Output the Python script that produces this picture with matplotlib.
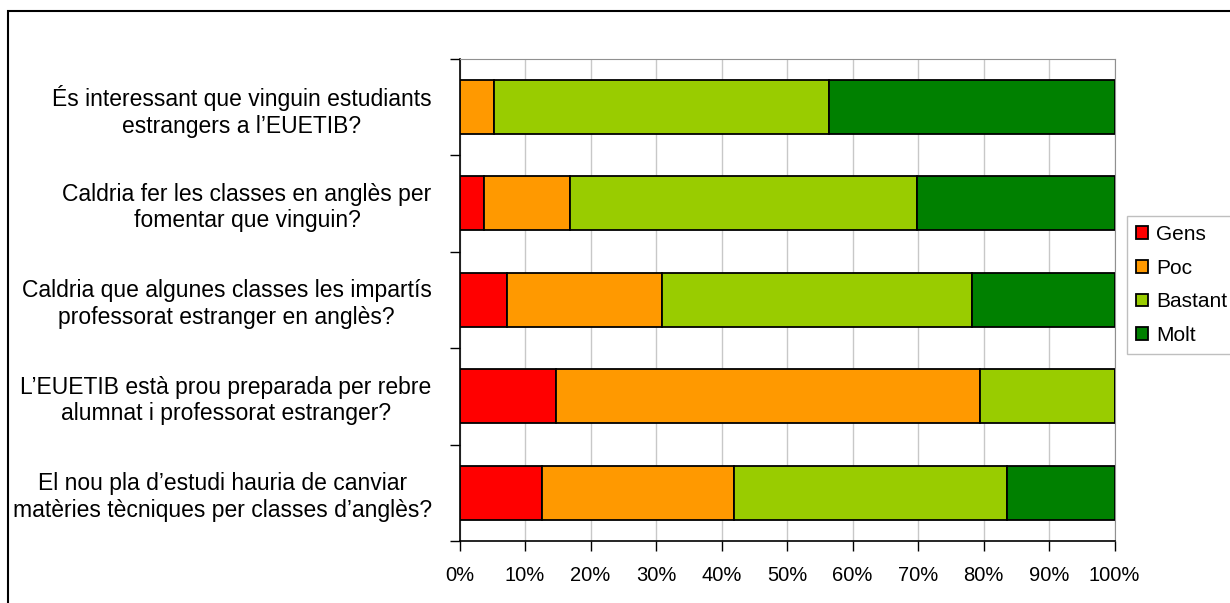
import numpy as np
import matplotlib.pyplot as plt
from matplotlib.patches import Rectangle

plt.rcParams['font.family'] = ['Liberation Sans', 'DejaVu Sans']

questions = [
    "És interessant que vinguin estudiants\nestrangers a l’EUETIB?",
    "Caldria fer les classes en anglès per\nfomentar que vinguin?",
    "Caldria que algunes classes les impartís\nprofessorat estranger en anglès?",
    "L’EUETIB està prou preparada per rebre\nalumnat i professorat estranger?",
    "El nou pla d’estudi hauria de canviar\nmatèries tècniques per classes d’anglès?",
]
series = ["Gens", "Poc", "Bastant", "Molt"]
colors = ["#FF0000", "#FF9900", "#99CC00", "#008000"]

# percentatges per pregunta (de dalt a baix)
gens = [0.0, 3.7, 7.2, 14.7, 12.6]
poc = [5.3, 13.2, 23.7, 64.8, 29.3]
bastant = [51.1, 53.0, 47.4, 20.5, 41.7]
molt = [43.6, 30.1, 21.7, 0.0, 16.4]
values = [gens, poc, bastant, molt]

fig = plt.figure(figsize=(12.3, 6.03), dpi=100)
ax = fig.add_axes([459.5/1230, 1-541/603, 655/1230, (541-58.7)/603])

y = np.arange(len(questions))
left = np.zeros(len(questions))
for name, vals, c in zip(series, values, colors):
    vals = np.array(vals)
    ax.barh(y, vals, left=left, height=0.56, color=c, edgecolor='black',
            linewidth=1.3, label=name, zorder=3)
    left += vals

ax.set_xlim(0, 100)
ax.set_ylim(len(questions)-0.5, -0.5)
ax.set_xticks(np.arange(0, 101, 10))
ax.set_xticklabels([f"{v}%" for v in range(0, 101, 10)], fontsize=14.5)
ax.set_yticks(np.arange(-0.5, len(questions), 1))
ax.set_yticklabels([])
ax.set_yticks(y, minor=True)
ax.set_yticklabels(questions, minor=True, fontsize=16.5, ha='right',
                   multialignment='center', linespacing=1.2)
ax.tick_params(axis='y', which='minor', length=0, pad=20)
ax.tick_params(axis='y', which='major', length=7, width=1, direction='out')
ax.tick_params(axis='x', length=7, width=1, direction='out', pad=11)
ax.xaxis.grid(True, color='#c8c8c8', linewidth=1, zorder=0)
ax.set_axisbelow(True)
ax.spines['top'].set_color('#909090')
ax.spines['right'].set_color('#909090')
ax.spines['left'].set_linewidth(1.2)
ax.spines['bottom'].set_linewidth(1.2)

leg = ax.legend(loc='upper left', bbox_to_anchor=(1126.7/1230, 1-215.7/603),
                bbox_transform=fig.transFigure, fontsize=15, frameon=True,
                fancybox=False, edgecolor='#b0b0b0', handlelength=0.55,
                handleheight=0.55, handletextpad=0.4, labelspacing=0.7,
                borderpad=0.45, borderaxespad=0)
leg.get_frame().set_linewidth(1)

fig.patches.append(Rectangle((8/1230, -0.1), 1.2, 1-11/603+0.1, fill=False,
                             edgecolor='black', linewidth=1.5,
                             transform=fig.transFigure, figure=fig))

fig.savefig('out.png', dpi=100)
